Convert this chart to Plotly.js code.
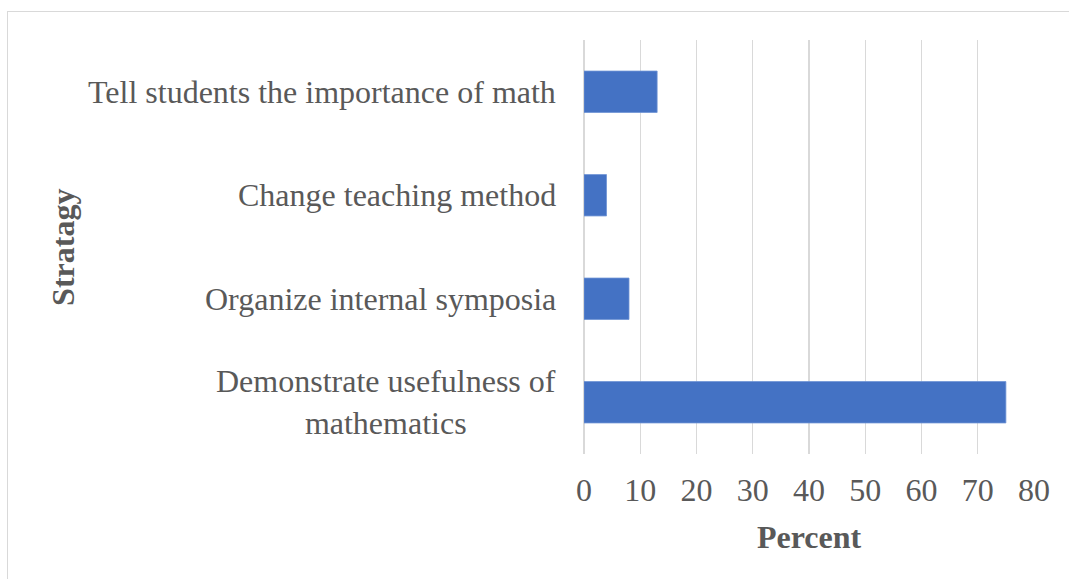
<!DOCTYPE html>
<html>
<head>
<meta charset="utf-8">
<script src="https://cdn.plot.ly/plotly-3.0.1.min.js"></script>
<style>
  html, body { margin: 0; padding: 0; background: #fff; }
  #wrap { position: relative; width: 1069px; height: 579px; overflow: hidden; }
  #frame { position: absolute; left: 7px; top: 11px; width: 1100px; height: 600px; border: 1px solid #d9d9d9; pointer-events: none; }
  #chart { position: absolute; left: 0; top: 0; width: 1069px; height: 579px; }
</style>
</head>
<body>
<div id="wrap">
  <div id="chart"></div>
  <div id="frame"></div>
</div>
<script>
const categories = [
  "Demonstrate usefulness of<br>mathematics",
  "Organize internal symposia",
  "Change teaching method",
  "Tell students the importance of math"
];
const percentValues = [75, 8, 4, 13];
const xTicks = [0, 10, 20, 30, 40, 50, 60, 70, 80];
const xTitle = "Percent";
const yTitle = "Stratagy";

const textColor = "#595959";
const fontFam = "'Liberation Serif', 'Times New Roman', serif";

const trace = {
  type: "bar",
  orientation: "h",
  y: categories,
  x: percentValues,
  marker: { color: "#4472C4", line: { color: "#6f93d4", width: 0.8 } },
  hoverinfo: "x+y"
};

const annotations = categories.map((c) => ({
  xref: "paper", yref: "y",
  x: 0, y: c,
  xanchor: "right", yanchor: "middle",
  xshift: -26,
  text: c,
  align: "center",
  showarrow: false,
  font: { family: fontFam, size: 32, color: textColor }
}));
annotations.push({
  xref: "paper", yref: "paper",
  x: -1.158, y: 0.5,
  xanchor: "center", yanchor: "middle",
  textangle: -90,
  text: "<b>" + yTitle + "</b>",
  showarrow: false,
  font: { family: fontFam, size: 32, color: textColor }
});

const layout = {
  width: 1069, height: 579,
  margin: { l: 584, r: 35, t: 40, b: 125, pad: 0 },
  paper_bgcolor: "#ffffff",
  plot_bgcolor: "#ffffff",
  showlegend: false,
  bargap: 0.6,
  font: { family: fontFam, size: 32, color: textColor },
  xaxis: {
    range: [0, 80],
    tickvals: xTicks,
    ticktext: xTicks.map(String),
    showgrid: true,
    gridcolor: "#d9d9d9",
    gridwidth: 1.3,
    zeroline: true,
    zerolinecolor: "#d9d9d9",
    zerolinewidth: 1.3,
    showline: false,
    ticks: "",
    ticklabelstandoff: 14,
    tickfont: { family: fontFam, size: 32, color: textColor },
    title: { text: "<b>" + xTitle + "</b>", font: { family: fontFam, size: 32, color: textColor }, standoff: 18 },
    fixedrange: true
  },
  yaxis: {
    type: "category",
    categoryorder: "array",
    categoryarray: categories,
    showticklabels: false,
    showgrid: false,
    zeroline: false,
    showline: false,
    ticks: "",
    fixedrange: true
  },
  annotations: annotations
};

Plotly.newPlot("chart", [trace], layout, { displayModeBar: false, staticPlot: true });
</script>
</body>
</html>
